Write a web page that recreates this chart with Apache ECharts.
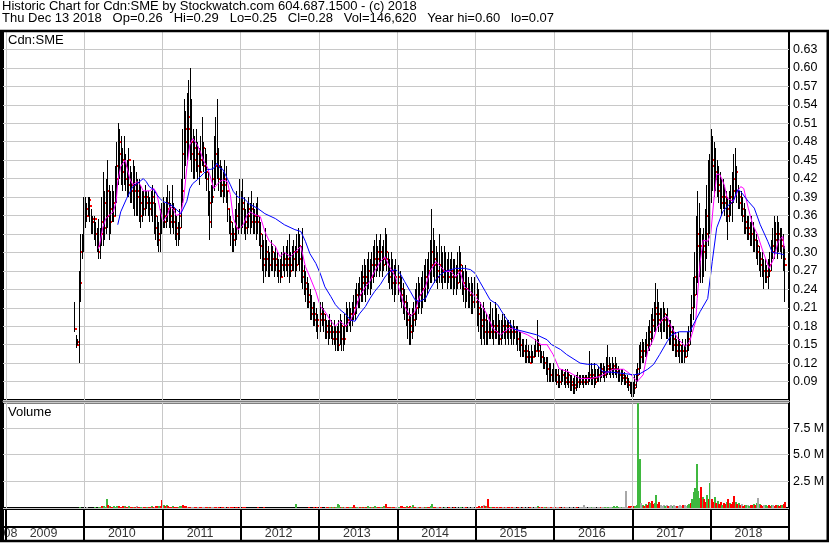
<!DOCTYPE html>
<html><head><meta charset="utf-8">
<script src="https://cdn.jsdelivr.net/npm/echarts@6/dist/echarts.min.js"></script>
<style>html,body{margin:0;padding:0;background:#fff}#c{width:830px;height:543px}</style>
</head><body><div id="c"></div>
<script>
const FONT = '"Liberation Sans", Arial, Helvetica, sans-serif';
const DAY = 86400000;
const FIRST_WEEK = Date.UTC(2009, 10, 16);   // weekly bars start the week of Nov 16 2009
const X_MIN = Date.UTC(2008, 11, 19);
const X_MAX = Date.UTC(2019, 0, 1);

const headerLine1 = 'Historic Chart for Cdn:SME by Stockwatch.com 604.687.1500 - (c) 2018';
const headerLine2 = 'Thu Dec 13 2018   Op=0.26   Hi=0.29   Lo=0.25   Cl=0.28   Vol=146,620   Year hi=0.60   lo=0.07';
const symbolLabel = 'Cdn:SME';
const volumeLabel = 'Volume';

const yearStarts = [2009, 2010, 2011, 2012, 2013, 2014, 2015, 2016, 2017, 2018];
const yearLabels = ['2009', '2010', '2011', '2012', '2013', '2014', '2015', '2016', '2017', '2018'];
const leadLabel = '08';

// weekly [low, high, close]
const p2009 = [[0.17,0.22,0.175],[0.145,0.165,0.15],[0.15,0.16,0.155],[0.12,0.27,0.25],[0.22,0.33,0.30],[0.29,0.33,0.32],[0.30,0.39,0.37]];
const p2010 = [[0.34,0.39,0.37],[0.35,0.38,0.36],[0.36,0.39,0.385],[0.35,0.39,0.375],[0.33,0.37,0.35],[0.33,0.36,0.355],[0.32,0.36,0.355],[0.31,0.35,0.33],[0.30,0.34,0.31],[0.29,0.355,0.30],
[0.29,0.34,0.33],[0.31,0.39,0.35],[0.31,0.43,0.38],[0.32,0.40,0.34],[0.33,0.42,0.40],[0.34,0.45,0.36],[0.32,0.41,0.35],[0.33,0.40,0.37],[0.35,0.41,0.38],[0.35,0.40,0.36],
[0.36,0.44,0.42],[0.38,0.48,0.44],[0.41,0.51,0.48],[0.42,0.50,0.46],[0.41,0.49,0.45],[0.40,0.47,0.43],[0.41,0.49,0.44],[0.40,0.46,0.42],[0.39,0.45,0.41],[0.39,0.47,0.45],
[0.38,0.44,0.40],[0.38,0.43,0.41],[0.37,0.45,0.40],[0.36,0.44,0.41],[0.36,0.43,0.39],[0.36,0.42,0.40],[0.35,0.42,0.38],[0.34,0.41,0.36],[0.35,0.40,0.37],[0.36,0.40,0.39],
[0.36,0.41,0.38],[0.37,0.40,0.39],[0.36,0.40,0.38],[0.35,0.39,0.37],[0.36,0.40,0.39],[0.35,0.41,0.38],[0.33,0.40,0.36],[0.32,0.38,0.34],[0.31,0.36,0.33],[0.30,0.35,0.32],
[0.30,0.37,0.34],[0.33,0.38,0.36]];
const p2011 = [[0.34,0.39,0.36],[0.34,0.38,0.35],[0.34,0.39,0.37],[0.35,0.41,0.38],[0.34,0.40,0.36],[0.33,0.38,0.35],[0.34,0.41,0.37],[0.33,0.38,0.35],[0.32,0.37,0.34],[0.31,0.36,0.33],
[0.31,0.35,0.34],[0.32,0.37,0.36],[0.34,0.42,0.40],[0.38,0.50,0.46],[0.42,0.55,0.48],[0.44,0.53,0.50],[0.45,0.56,0.52],[0.46,0.58,0.50],[0.45,0.60,0.48],[0.43,0.55,0.46],
[0.42,0.50,0.45],[0.42,0.49,0.47],[0.43,0.50,0.46],[0.42,0.48,0.44],[0.41,0.47,0.43],[0.43,0.49,0.45],[0.44,0.52,0.47],[0.43,0.48,0.44],[0.42,0.47,0.43],[0.40,0.46,0.42],
[0.36,0.43,0.38],[0.32,0.40,0.35],[0.34,0.41,0.39],[0.38,0.45,0.42],[0.40,0.49,0.44],[0.41,0.52,0.46],[0.42,0.55,0.44],[0.40,0.47,0.42],[0.39,0.45,0.41],[0.39,0.44,0.40],
[0.38,0.43,0.41],[0.39,0.45,0.42],[0.38,0.44,0.40],[0.35,0.40,0.37],[0.33,0.37,0.35],[0.31,0.36,0.33],[0.30,0.35,0.32],[0.30,0.34,0.33],[0.31,0.37,0.34],[0.32,0.40,0.36],
[0.33,0.38,0.35],[0.34,0.42,0.37]];
const p2012 = [[0.33,0.40,0.37],[0.34,0.42,0.38],[0.33,0.39,0.35],[0.32,0.37,0.34],[0.33,0.38,0.36],[0.34,0.39,0.37],[0.33,0.38,0.35],[0.34,0.40,0.37],[0.33,0.38,0.36],[0.33,0.37,0.35],
[0.32,0.38,0.36],[0.33,0.39,0.35],[0.31,0.36,0.33],[0.29,0.35,0.31],[0.27,0.33,0.29],[0.25,0.32,0.28],[0.26,0.34,0.30],[0.27,0.32,0.29],[0.26,0.31,0.28],[0.26,0.30,0.28],
[0.27,0.32,0.30],[0.27,0.31,0.29],[0.26,0.30,0.28],[0.27,0.31,0.29],[0.26,0.30,0.27],[0.25,0.29,0.27],[0.25,0.29,0.26],[0.26,0.30,0.28],[0.27,0.31,0.29],[0.26,0.30,0.28],
[0.27,0.31,0.29],[0.26,0.32,0.28],[0.25,0.33,0.27],[0.26,0.30,0.28],[0.27,0.31,0.29],[0.27,0.32,0.30],[0.26,0.31,0.28],[0.27,0.33,0.30],[0.28,0.34,0.31],[0.27,0.33,0.29],
[0.25,0.31,0.27],[0.24,0.34,0.26],[0.23,0.28,0.25],[0.22,0.27,0.24],[0.21,0.26,0.23],[0.21,0.25,0.22],[0.19,0.24,0.21],[0.19,0.23,0.20],[0.18,0.22,0.19],[0.18,0.22,0.20],
[0.17,0.21,0.19],[0.16,0.20,0.18]];
const p2013 = [[0.17,0.22,0.19],[0.17,0.22,0.20],[0.18,0.22,0.20],[0.17,0.21,0.19],[0.16,0.20,0.18],[0.16,0.19,0.17],[0.15,0.19,0.17],[0.16,0.20,0.18],[0.16,0.19,0.17],[0.15,0.18,0.16],
[0.15,0.19,0.17],[0.14,0.18,0.16],[0.14,0.18,0.15],[0.14,0.19,0.17],[0.15,0.20,0.18],[0.14,0.19,0.16],[0.14,0.18,0.16],[0.15,0.20,0.18],[0.17,0.22,0.19],[0.17,0.21,0.19],
[0.18,0.22,0.20],[0.17,0.21,0.19],[0.18,0.22,0.20],[0.19,0.23,0.21],[0.19,0.24,0.22],[0.20,0.25,0.23],[0.21,0.25,0.23],[0.21,0.26,0.24],[0.22,0.27,0.25],[0.22,0.28,0.26],
[0.23,0.29,0.26],[0.22,0.28,0.25],[0.23,0.29,0.27],[0.24,0.30,0.27],[0.23,0.29,0.26],[0.24,0.30,0.28],[0.25,0.31,0.28],[0.26,0.32,0.29],[0.26,0.33,0.30],[0.27,0.31,0.29],
[0.26,0.32,0.30],[0.27,0.33,0.30],[0.26,0.31,0.28],[0.27,0.32,0.29],[0.28,0.34,0.30],[0.27,0.33,0.29],[0.25,0.30,0.27],[0.24,0.29,0.26],[0.24,0.30,0.27],[0.23,0.29,0.25],
[0.22,0.28,0.25],[0.23,0.29,0.26]];
const p2014 = [[0.24,0.29,0.26],[0.23,0.28,0.25],[0.22,0.27,0.24],[0.21,0.26,0.23],[0.20,0.25,0.22],[0.19,0.24,0.21],[0.18,0.23,0.20],[0.16,0.22,0.19],[0.15,0.21,0.18],[0.15,0.20,0.17],
[0.16,0.21,0.19],[0.17,0.22,0.20],[0.18,0.24,0.21],[0.19,0.25,0.22],[0.20,0.26,0.23],[0.21,0.25,0.23],[0.20,0.26,0.24],[0.21,0.27,0.24],[0.22,0.28,0.25],[0.22,0.29,0.26],
[0.23,0.29,0.27],[0.24,0.30,0.27],[0.25,0.32,0.28],[0.25,0.37,0.30],[0.26,0.34,0.29],[0.25,0.32,0.28],[0.25,0.31,0.27],[0.24,0.30,0.26],[0.25,0.33,0.28],[0.25,0.31,0.27],
[0.24,0.30,0.26],[0.25,0.31,0.27],[0.25,0.30,0.27],[0.24,0.29,0.26],[0.25,0.30,0.27],[0.24,0.29,0.26],[0.24,0.30,0.27],[0.23,0.29,0.26],[0.24,0.29,0.26],[0.23,0.28,0.25],
[0.24,0.30,0.27],[0.25,0.31,0.28],[0.24,0.30,0.27],[0.23,0.28,0.25],[0.22,0.27,0.24],[0.21,0.28,0.24],[0.22,0.27,0.24],[0.21,0.26,0.23],[0.21,0.25,0.23],[0.20,0.26,0.22],
[0.20,0.25,0.22],[0.21,0.26,0.23]];
const p2015 = [[0.19,0.25,0.22],[0.18,0.25,0.21],[0.17,0.24,0.20],[0.16,0.22,0.19],[0.15,0.21,0.18],[0.16,0.22,0.19],[0.15,0.21,0.17],[0.15,0.20,0.17],[0.15,0.19,0.17],[0.16,0.20,0.17],
[0.16,0.22,0.18],[0.16,0.21,0.18],[0.15,0.19,0.17],[0.16,0.22,0.18],[0.16,0.21,0.17],[0.15,0.20,0.16],[0.15,0.19,0.16],[0.15,0.19,0.17],[0.16,0.20,0.18],[0.16,0.20,0.18],
[0.15,0.19,0.17],[0.16,0.19,0.18],[0.15,0.19,0.17],[0.16,0.19,0.17],[0.15,0.18,0.17],[0.15,0.19,0.17],[0.16,0.18,0.17],[0.15,0.18,0.16],[0.14,0.18,0.16],[0.14,0.17,0.15],
[0.13,0.17,0.15],[0.13,0.16,0.14],[0.13,0.16,0.14],[0.12,0.15,0.14],[0.12,0.16,0.13],[0.12,0.15,0.13],[0.12,0.14,0.12],[0.12,0.15,0.13],[0.12,0.14,0.13],[0.13,0.15,0.14],
[0.13,0.16,0.14],[0.14,0.19,0.15],[0.13,0.16,0.14],[0.12,0.15,0.13],[0.12,0.14,0.13],[0.11,0.14,0.12],[0.11,0.13,0.12],[0.10,0.13,0.11],[0.09,0.13,0.11],[0.09,0.12,0.10],
[0.09,0.12,0.10],[0.09,0.11,0.10]];
const p2016 = [[0.09,0.12,0.10],[0.09,0.11,0.10],[0.085,0.11,0.09],[0.08,0.11,0.09],[0.08,0.10,0.09],[0.085,0.11,0.10],[0.09,0.11,0.10],[0.085,0.105,0.095],[0.08,0.11,0.09],[0.085,0.11,0.10],
[0.08,0.105,0.09],[0.075,0.10,0.085],[0.075,0.10,0.09],[0.07,0.095,0.08],[0.07,0.10,0.085],[0.075,0.10,0.09],[0.08,0.105,0.09],[0.08,0.10,0.09],[0.085,0.10,0.09],[0.085,0.10,0.095],
[0.08,0.10,0.09],[0.085,0.10,0.09],[0.085,0.10,0.095],[0.085,0.105,0.095],[0.09,0.14,0.10],[0.085,0.12,0.095],[0.085,0.11,0.10],[0.08,0.12,0.09],[0.085,0.11,0.095],[0.09,0.11,0.10],
[0.09,0.115,0.10],[0.09,0.12,0.105],[0.095,0.12,0.11],[0.095,0.12,0.105],[0.09,0.115,0.10],[0.095,0.13,0.11],[0.10,0.15,0.115],[0.10,0.13,0.11],[0.095,0.12,0.11],[0.10,0.13,0.115],
[0.095,0.12,0.11],[0.10,0.13,0.11],[0.095,0.12,0.105],[0.09,0.115,0.10],[0.09,0.11,0.10],[0.085,0.11,0.095],[0.09,0.11,0.10],[0.085,0.105,0.095],[0.085,0.10,0.09],[0.08,0.10,0.09],
[0.075,0.095,0.085],[0.07,0.09,0.08]];
const p2017 = [[0.065,0.09,0.075],[0.065,0.09,0.08],[0.07,0.10,0.085],[0.08,0.11,0.10],[0.09,0.12,0.11],[0.10,0.15,0.13],[0.11,0.155,0.14],[0.12,0.16,0.14],[0.12,0.155,0.14],[0.13,0.16,0.15],
[0.13,0.17,0.15],[0.14,0.18,0.16],[0.14,0.19,0.17],[0.15,0.20,0.18],[0.16,0.21,0.19],[0.17,0.22,0.20],[0.17,0.25,0.21],[0.18,0.24,0.20],[0.17,0.22,0.19],[0.17,0.21,0.19],
[0.16,0.21,0.19],[0.17,0.22,0.20],[0.17,0.21,0.19],[0.16,0.20,0.18],[0.16,0.21,0.18],[0.15,0.19,0.17],[0.15,0.19,0.17],[0.14,0.18,0.16],[0.14,0.18,0.15],[0.13,0.17,0.15],
[0.13,0.16,0.14],[0.13,0.17,0.15],[0.12,0.16,0.14],[0.12,0.15,0.14],[0.12,0.16,0.14],[0.12,0.15,0.13],[0.13,0.16,0.14],[0.13,0.17,0.15],[0.14,0.18,0.16],[0.15,0.20,0.18],
[0.17,0.23,0.21],[0.19,0.26,0.23],[0.21,0.30,0.26],[0.23,0.36,0.31],[0.25,0.40,0.33],[0.26,0.38,0.31],[0.25,0.34,0.30],[0.25,0.33,0.30],[0.26,0.34,0.31],[0.27,0.37,0.33],
[0.29,0.41,0.36],[0.31,0.45,0.40]];
const p2018 = [[0.33,0.46,0.42],[0.38,0.50,0.44],[0.40,0.49,0.45],[0.39,0.48,0.43],[0.40,0.47,0.42],[0.39,0.45,0.41],[0.38,0.44,0.40],[0.37,0.43,0.39],[0.36,0.42,0.38],[0.37,0.42,0.39],
[0.36,0.41,0.38],[0.35,0.40,0.37],[0.32,0.39,0.36],[0.35,0.40,0.38],[0.36,0.41,0.39],[0.35,0.43,0.40],[0.38,0.46,0.42],[0.39,0.47,0.43],[0.38,0.44,0.40],[0.37,0.41,0.39],
[0.37,0.40,0.38],[0.36,0.40,0.37],[0.35,0.39,0.36],[0.33,0.38,0.35],[0.33,0.37,0.34],[0.32,0.36,0.34],[0.32,0.36,0.33],[0.31,0.35,0.33],[0.31,0.36,0.33],[0.30,0.35,0.32],
[0.30,0.34,0.32],[0.29,0.33,0.31],[0.28,0.32,0.30],[0.27,0.31,0.29],[0.26,0.30,0.28],[0.26,0.30,0.27],[0.24,0.29,0.27],[0.25,0.29,0.27],[0.25,0.28,0.26],[0.24,0.29,0.27],
[0.26,0.30,0.28],[0.27,0.32,0.30],[0.29,0.34,0.31],[0.29,0.36,0.33],[0.30,0.35,0.32],[0.29,0.36,0.33],[0.30,0.35,0.33],[0.30,0.34,0.32],[0.29,0.34,0.31],[0.27,0.33,0.29],
[0.22,0.31,0.28]];

// weekly volume (millions) and bar colour codes: g = up, r = down, n = unchanged
const v2009 = [0,0,0,0.06,0.03,0.02,0.04];
const c2009 = 'nnngrgg';
const v2010 = [0.03,0.05,0.02,0.04,0.03,0.02,0.05,0.03,0.04,0.06, 0.12,0.15,0.2,0.1,0.85,0.25,0.15,0.12,0.1,0.18, 0.12,0.15,0.2,0.12,0.1,0.15,0.18,0.1,0.12,0.15, 0.1,0.08,0.12,0.1,0.15,0.1,0.1,0.08,0.12,0.1, 0.08,0.1,0.12,0.1,0.15,0.1,0.12,0.18,0.2,0.15,0.2,0.75];
const c2010 = 'gnrgrrgrrg' + 'grgggrgrrg' + 'ggrrrrgrrg' + 'rrgrnrrgnr' + 'rgrrgrnrrgrr';
const v2011 = [0.28,0.2,0.25,0.15, 0.12,0.1,0.15,0.1,0.08,0.1,0.12,0.15,0.2,0.25,0.18,0.15, 0.12,0.1,0.08,0.1,0.06,0.08,0.05,0.06,0.08,0.05,0.06,0.05, 0.05,0.06,0.08,0.1,0.06,0.05,0.08,0.1,0.06,0.05,0.04,0.05, 0.06,0.05,0.04,0.06,0.05,0.08,0.05,0.04,0.06,0.05,0.04,0.05];
const c2011 = 'grgr' + 'rrgrrrgggrrr' + 'nrrnnrrnrrnn' + 'rrgrnnrrnrnr' + 'rnrrnrrnrrnr';
const v2012 = [0.03,0.05,0.08,0.04,0.03,0.02,0.03,0.02,0.04,0.03,0.02,0.08,0.03, 0.02,0.03,0.08,0.02,0.03,0.02,0.02,0.04,0.03,0.02,0.03,0.02,0.03, 0.02,0.03,0.02,0.02,0.03,0.02,0.02,0.03,0.02,0.02,0.35,0.04,0.03, 0.02,0.03,0.02,0.03,0.02,0.02,0.05,0.03,0.02,0.08,0.03,0.05,0.02];
const c2012 = 'rrrnnnrrnnrrr' + 'nnrnnnrrnnnnn' + 'nnnnnnnnnngnn' + 'nrnrnnrnnrgrn';
const v2013 = [0.03,0.05,0.04,0.03,0.05,0.08,0.06,0.05,0.1,0.06,0.08,0.12,0.35, 0.3,0.1,0.06,0.08,0.05,0.06,0.1,0.08,0.06,0.12,0.28,0.08,0.1, 0.06,0.05,0.08,0.12,0.1,0.08,0.15,0.1,0.12,0.08,0.1,0.15,0.12, 0.1,0.08,0.12,0.1,0.15,0.35,0.12,0.1,0.08,0.1,0.12,0.08,0.06];
const c2013 = 'nrnrnrrgrgrgg' + 'grgrnrrggrrrg' + 'nrgrgrggrgrgg' + 'rrgrgrrrrgrrn';
const v2014 = [0.08,0.06,0.15,0.2,0.12,0.1,0.15,0.1,0.18,0.08,0.3,0.1,0.08, 0.06,0.1,0.08,0.05,0.06,0.08,0.1,0.06,0.08,0.15,0.38,0.12,0.08, 0.06,0.05,0.08,0.05,0.04,0.06,0.05,0.04,0.05,0.06,0.04,0.05,0.04, 0.05,0.04,0.06,0.05,0.04,0.05,0.06,0.04,0.05,0.04,0.06,0.05,0.04];
const c2014 = 'rgrrrrgrrggrr' + 'ngrnnrgrrggrr' + 'nnrnngnnrnnrn' + 'nrngnnrnnrnnr';
const v2015 = [0.06,0.1,0.15,0.12,0.2,0.3,0.15,0.2,0.85,0.12,0.1,0.08,0.1, 0.06,0.08,0.05,0.06,0.08,0.1,0.06,0.1,0.08,0.06,0.05,0.08,0.06, 0.05,0.04,0.06,0.05,0.04,0.06,0.05,0.04,0.05,0.04,0.06,0.05,0.04, 0.05,0.06,0.15,0.05,0.06,0.08,0.05,0.1,0.12,0.06,0.05,0.08,0.06];
const c2015 = 'rrrgrnrgrrgrr' + 'nrnrrnrnrrnrn' + 'nnrnnrnnnnrnn' + 'nngrnrngrnnrn';
const v2016 = [0.05,0.06,0.08,0.05,0.06,0.04,0.05,0.08,0.06,0.05,0.04,0.06,0.05, 0.04,0.06,0.05,0.04,0.05,0.06,0.08,0.3,0.05,0.04,0.06,0.05,0.12, 0.06,0.05,0.04,0.06,0.05,0.08,0.06,0.05,0.06,0.08,0.12,0.06,0.08, 0.1,0.15,0.12,0.2,0.08,0.1,0.06,0.08,0.1,1.6,0.12,0.2,0.15];
const c2016 = 'nrnnrnnrnnrnn' + 'nnrnnnnnnnnng' + 'nnnnnrnngngnn' + 'gggggngnnnnrr';
const v2017 = [0.1,0.15,0.2,0.3, 10.5, 4.6, 0.5,0.3,0.2,0.4,0.3,0.6,0.5,0.7,0.4,0.5, 1.2, 0.4,0.6,0.3,0.2,0.3,0.2,0.25,0.15,0.2,0.3,0.2,0.25,0.2,0.15, 0.2,0.25,0.2,0.3,0.25,0.2,0.3,0.4,0.5,0.8, 1.5,1.9,4.1,1.6,0.9,2.0,1.0,0.8,0.6,1.2,0.8];
const c2017 = 'nrgg' + 'g' + 'g' + 'ngrgrrgrrg' + 'g' + 'rrnnngnrnngnnr' + 'nnnrnnggrg' + 'gggggrgrrgr';
const v2018 = [2.3, 0.8,0.6,1.0,0.5,0.7,0.4,0.6,0.3,0.5,0.4,0.6,0.8,0.5,0.4,0.6, 1.1, 0.6,0.4,0.5,0.3,0.4,0.2,0.3,0.25,0.3,0.2,0.25,0.3,0.4,0.3,0.5, 0.9, 0.4,0.3,0.2,0.3,0.25,0.2,0.3,0.2,0.25,0.3,0.2,0.3,0.25,0.2,0.3,0.25,0.4,0.6];
const c2018 = 'g' + 'rrgrgrrgrrgrgrr' + 'r' + 'grgrnrrgngrrgrg' + 'n' + 'grrnggrrgnrrgrrgrr';

// moving averages: [week index, value]
const maFast = [[16,.306],[17,.313],[19,.34],[21,.355],[24,.362],[26,.366],[28,.383],[29,.415],[31,.44],[34,.45],[35,.447],[37,.42],[39,.41],[42,.415],[44,.41],[46,.40],[48,.40],[50,.40],[53,.404],[55,.396],[57,.372],[59,.35],[62,.36],[64,.375],[66,.37],[68,.36],[71,.363],[73,.388],[75,.437],[77,.475],[79,.485],[82,.475],[84,.464],[86,.45],[89,.437],[91,.42],[93,.404],[95,.41],[97,.415],[99,.418],[102,.415],[104,.394],[106,.355],[109,.337],[111,.34],[113,.347],[115,.36],[117,.366],[119,.363],[122,.36],[124,.358],[127,.334],[130,.318],[134,.31],[137,.293],[140,.30],[144,.293],[147,.30],[151,.31],[154,.277],[157,.26],[161,.236],[164,.212],[167,.204],[171,.188],[174,.18],[177,.188],[181,.18],[184,.19],[187,.204],[190,.228],[194,.244],[197,.253],[200,.269],[204,.285],[207,.293],[210,.277],[214,.26],[217,.236],[220,.212],[224,.196],[227,.204],[230,.228],[234,.244],[237,.269],[241,.285],[244,.277],[247,.269],[251,.269],[254,.26],[257,.269],[260,.244],[264,.236],[267,.228],[270,.22],[275,.199],[279,.176],[284,.166],[289,.176],[293,.176],[297,.171],[302,.166],[306,.16],[311,.15],[315,.15],[319,.134],[323,.111],[329,.106],[337,.095],[344,.095],[350,.098],[359,.11],[366,.11],[370,.103],[375,.09],[379,.101],[382,.139],[386,.16],[388,.176],[392,.192],[395,.196],[397,.183],[402,.16],[407,.147],[410,.155],[414,.188],[415,.225],[417,.285],[419,.32],[422,.318],[424,.33],[426,.383],[428,.427],[430,.427],[433,.41],[435,.388],[439,.383],[442,.40],[444,.407],[446,.404],[449,.372],[452,.345],[455,.33],[459,.30],[463,.274],[466,.29],[469,.318],[472,.326],[473,.306]];
const maSlow = [[29,.345],[31,.366],[35,.388],[39,.407],[42,.412],[46,.42],[48,.415],[50,.407],[53,.402],[55,.394],[57,.388],[59,.383],[62,.38],[66,.375],[68,.37],[71,.363],[72,.362],[75,.383],[77,.404],[79,.412],[82,.418],[86,.428],[89,.435],[91,.435],[93,.437],[95,.445],[97,.437],[99,.435],[102,.42],[104,.41],[106,.399],[109,.39],[113,.388],[115,.383],[117,.378],[122,.372],[127,.363],[134,.355],[140,.345],[147,.337],[151,.334],[154,.318],[157,.298],[161,.282],[164,.265],[167,.244],[171,.228],[174,.215],[177,.207],[181,.199],[184,.19],[187,.188],[190,.20],[194,.212],[197,.225],[200,.236],[204,.248],[207,.26],[210,.269],[214,.272],[217,.266],[220,.253],[224,.236],[227,.223],[230,.22],[234,.225],[237,.24],[241,.256],[244,.264],[247,.269],[251,.272],[254,.274],[257,.274],[260,.274],[264,.272],[267,.266],[270,.253],[274,.236],[277,.223],[282,.215],[286,.199],[293,.175],[297,.173],[308,.166],[315,.158],[318,.15],[324,.142],[328,.134],[337,.12],[342,.118],[348,.118],[352,.106],[359,.105],[373,.101],[377,.103],[382,.11],[386,.118],[390,.134],[395,.155],[398,.166],[403,.171],[410,.171],[417,.204],[422,.225],[425,.285],[428,.34],[432,.366],[435,.375],[439,.383],[442,.402],[444,.399],[449,.383],[453,.372],[457,.345],[462,.318],[465,.30],[470,.298],[473,.296]];

// ---------- build ----------
const weekTime = i => FIRST_WEEK + i * 7 * DAY;
const ohlc = [].concat(p2009, p2010, p2011, p2012, p2013, p2014, p2015, p2016, p2017, p2018);
const priceData = ohlc.map((d, i) => [weekTime(i), d[0], d[1], d[2]]);
const vols = [].concat(v2009, v2010, v2011, v2012, v2013, v2014, v2015, v2016, v2017, v2018);
const vcols = [c2009, c2010, c2011, c2012, c2013, c2014, c2015, c2016, c2017, c2018].join('');
const volData = vols.map((v, i) => [weekTime(i), v, vcols[i] === 'g' ? 1 : (vcols[i] === 'r' ? -1 : 0)]);
const fastData = maFast.map(([i, v]) => [weekTime(i), v]);
const slowData = maSlow.map(([i, v]) => [weekTime(i), v]);
const yearLines = yearStarts.map(y => ({ xAxis: Date.UTC(y, 0, 1) }));
const labelData = yearLabels.map((s, k) => [Date.UTC(yearStarts[k], 5, 26), 0.5, s]);
labelData.push({ value: [X_MIN, 0.5, leadLabel], label: { position: 'right', distance: 0 } });

const GREEN = '#3fb83f', RED = '#ff0000', GRAY = '#a8a8a8';
const GRID_GRAY = '#c8c8c8';

function gridLineSeries(xi, color, width) {
  return {
    type: 'line', xAxisIndex: xi, yAxisIndex: xi, data: [], silent: true, z: 1,
    markLine: { silent: true, symbol: ['none', 'none'], label: { show: false },
      lineStyle: { color: color, width: width, type: 'solid' }, data: yearLines, animation: false }
  };
}

const chart = echarts.init(document.getElementById('c'), null, { renderer: 'canvas' });
chart.setOption({
  animation: false,
  backgroundColor: '#ffffff',
  textStyle: { fontFamily: FONT },
  title: [
    { text: headerLine1 + '\n' + headerLine2, left: 2, top: 0, padding: 0,
      textStyle: { fontSize: 13, fontWeight: 'normal', color: '#000', fontFamily: FONT, lineHeight: 12.5 } },
    { text: symbolLabel, left: 8, top: 34, padding: 0,
      textStyle: { fontSize: 13, fontWeight: 'normal', color: '#000', fontFamily: FONT } },
    { text: volumeLabel, left: 8, top: 406, padding: 0,
      textStyle: { fontSize: 13, fontWeight: 'normal', color: '#000', fontFamily: FONT } }
  ],
  graphic: [{ type: 'rect', silent: true, z: 100,
    shape: { x: 1.25, y: 31, width: 826.5, height: 510 },
    style: { fill: 'none', stroke: '#000', lineWidth: 2.5 } }],
  grid: [
    { left: 3, right: 41, top: 31, height: 369, show: true, borderColor: '#000', borderWidth: 2 },
    { left: 3, right: 41, top: 402.5, height: 105.5, show: true, borderColor: '#000', borderWidth: 2 },
    { left: 3, right: 41, top: 509, height: 18, show: true, borderColor: '#000', borderWidth: 2 },
    { left: 3, right: 41, top: 527, height: 14, show: true, borderColor: '#000', borderWidth: 2 }
  ],
  xAxis: [0, 1, 2, 3].map(g => ({ type: 'time', gridIndex: g, min: X_MIN, max: X_MAX, show: false })),
  yAxis: [
    { type: 'value', gridIndex: 0, position: 'right', min: 0.06, max: 0.66, interval: 0.03,
      axisLine: { show: false }, axisTick: { show: false },
      splitLine: { show: true, lineStyle: { color: GRID_GRAY, width: 1 } },
      axisLabel: { showMinLabel: false, showMaxLabel: false, margin: 4, fontSize: 12.5, color: '#000',
        fontFamily: FONT, formatter: v => v.toFixed(2) } },
    { type: 'value', gridIndex: 1, position: 'right', min: 0, max: 9.9, interval: 2.5,
      axisLine: { show: false }, axisTick: { show: false },
      splitLine: { show: true, lineStyle: { color: GRID_GRAY, width: 1 } },
      axisLabel: { showMinLabel: false, showMaxLabel: false, margin: 4, fontSize: 12.5, color: '#000',
        fontFamily: FONT, formatter: v => v.toFixed(1) + ' M' } },
    { type: 'value', gridIndex: 2, min: 0, max: 1, show: false },
    { type: 'value', gridIndex: 3, min: 0, max: 1, show: false }
  ],
  series: [
    gridLineSeries(0, GRID_GRAY, 1),
    gridLineSeries(1, GRID_GRAY, 1),
    gridLineSeries(2, '#000', 2),
    gridLineSeries(3, '#000', 2),
    {
      type: 'custom', xAxisIndex: 0, yAxisIndex: 0, data: priceData, z: 2, silent: true,
      encode: { x: 0, y: [1, 2, 3] },
      renderItem(params, api) {
        const t = api.value(0);
        const lo = api.coord([t, api.value(1)]);
        const hi = api.coord([t, api.value(2)]);
        const cl = api.coord([t, api.value(3)]);
        const x = Math.round(lo[0]);
        const top = Math.round(hi[1]);
        return { type: 'group', children: [
          { type: 'rect', shape: { x: x, y: top, width: 1, height: Math.max(1, Math.round(lo[1]) - top) }, style: { fill: '#000' } },
          { type: 'rect', shape: { x: x + 1, y: Math.round(cl[1]) - 1, width: 2, height: 2 }, style: { fill: RED } }
        ] };
      }
    },
    { type: 'line', xAxisIndex: 0, yAxisIndex: 0, data: fastData, showSymbol: false, silent: true, z: 4,
      lineStyle: { color: '#ff00ff', width: 1 } },
    { type: 'line', xAxisIndex: 0, yAxisIndex: 0, data: slowData, showSymbol: false, silent: true, z: 4,
      lineStyle: { color: '#0000ff', width: 1 } },
    {
      type: 'custom', xAxisIndex: 1, yAxisIndex: 1, data: volData, z: 2, silent: true,
      encode: { x: 0, y: 1 },
      renderItem(params, api) {
        const t = api.value(0);
        const base = api.coord([t, 0]);
        const tip = api.coord([t, api.value(1)]);
        const cs = params.coordSys;
        const y1 = Math.round(Math.max(tip[1], cs.y));
        const y0 = Math.round(base[1]);
        const code = api.value(2);
        return { type: 'rect', shape: { x: Math.round(base[0]), y: y1, width: 2, height: Math.max(0, y0 - y1) },
          style: { fill: code > 0 ? GREEN : (code < 0 ? RED : GRAY) } };
      }
    },
    {
      type: 'scatter', xAxisIndex: 3, yAxisIndex: 3, data: labelData, symbolSize: 1, silent: true,
      itemStyle: { color: 'rgba(0,0,0,0)' },
      label: { show: true, position: 'inside', formatter: p => p.data.value ? p.data.value[2] : p.data[2],
        fontSize: 12.5, color: '#000', fontFamily: FONT }
    }
  ]
});
</script></body></html>
